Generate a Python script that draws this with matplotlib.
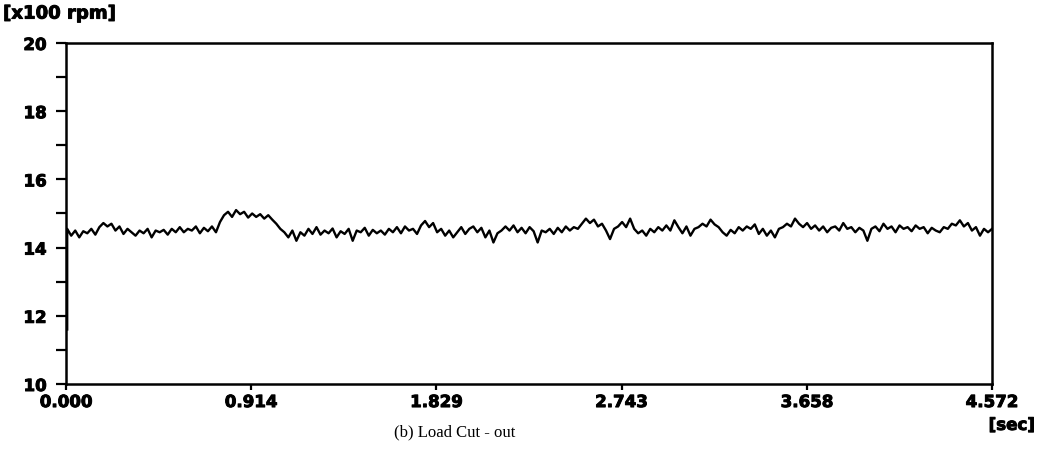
import numpy as np
import matplotlib
matplotlib.use("Agg")
import matplotlib.pyplot as plt
import matplotlib.patheffects as pe
from matplotlib.ticker import FixedLocator, MultipleLocator

# Engine speed after load cut-out, in units of 100 rpm
speed = [
    11.6, 14.55, 14.35, 14.5, 14.3, 14.48, 14.42, 14.55, 14.38, 14.6,
    14.72, 14.62, 14.7, 14.5, 14.62, 14.4, 14.55, 14.45, 14.35, 14.5,
    14.42, 14.55, 14.3, 14.5, 14.45, 14.52, 14.38, 14.55, 14.45, 14.6,
    14.45, 14.55, 14.5, 14.62, 14.42, 14.58, 14.48, 14.62, 14.45, 14.75,
    14.95, 15.05, 14.9, 15.1, 14.98, 15.05, 14.88, 15.0, 14.9, 14.98,
    14.85, 14.95, 14.82, 14.7, 14.55, 14.45, 14.3, 14.5, 14.2, 14.45,
    14.35, 14.55, 14.4, 14.6, 14.38, 14.5, 14.42, 14.56, 14.3, 14.48,
    14.4, 14.55, 14.2, 14.5, 14.45, 14.58, 14.35, 14.52, 14.42, 14.5,
    14.38, 14.55, 14.45, 14.6, 14.42, 14.62, 14.5, 14.55, 14.4, 14.65,
    14.78, 14.6, 14.72, 14.45, 14.55, 14.35, 14.5, 14.3, 14.45, 14.6,
    14.4, 14.55, 14.62, 14.45, 14.58, 14.3, 14.5, 14.15, 14.42, 14.5,
    14.62, 14.5, 14.65, 14.45, 14.58, 14.42, 14.6, 14.48, 14.15, 14.5,
    14.45, 14.55, 14.4, 14.58, 14.45, 14.62, 14.5, 14.6, 14.55, 14.7,
    14.85, 14.72, 14.82, 14.62, 14.7, 14.5, 14.25, 14.55, 14.62, 14.75,
    14.6, 14.85, 14.55, 14.42, 14.5, 14.35, 14.55, 14.45, 14.6, 14.5,
    14.65, 14.5, 14.8, 14.6, 14.42, 14.62, 14.35, 14.55, 14.6, 14.7,
    14.62, 14.82, 14.68, 14.6, 14.45, 14.35, 14.52, 14.42, 14.6, 14.5,
    14.62, 14.55, 14.68, 14.4, 14.55, 14.35, 14.5, 14.3, 14.55, 14.6,
    14.7, 14.62, 14.85, 14.7, 14.6, 14.72, 14.55, 14.65, 14.5, 14.62,
    14.45, 14.58, 14.62, 14.5, 14.72, 14.55, 14.6, 14.45, 14.58, 14.5,
    14.2, 14.55, 14.62, 14.48, 14.7, 14.55, 14.62, 14.45, 14.65, 14.55,
    14.6, 14.48, 14.65, 14.55, 14.6, 14.42, 14.58, 14.5, 14.45, 14.6,
    14.55, 14.7, 14.65, 14.8, 14.62, 14.72, 14.5, 14.6, 14.35, 14.55, 14.45, 14.55,
]
t_start = 0.006
t_end = 4.572
x_ticks = [0.000, 0.914, 1.829, 2.743, 3.658, 4.572]
x_tick_labels = ["0.000", "0.914", "1.829", "2.743", "3.658", "4.572"]
y_ticks = [10, 12, 14, 16, 18, 20]
y_tick_labels = ["10", "12", "14", "16", "18", "20"]

# the first reading is taken at the instant of cut-out, the rest are evenly spaced
time = np.concatenate([[t_start], np.linspace(t_start, t_end, len(speed) - 1)])

font = "DejaVu Sans"
heavy = [pe.withStroke(linewidth=0.7, foreground="black")]

fig = plt.figure(figsize=(10.39, 4.53), dpi=100)
ax = fig.add_axes([0.0635, 0.1523, 0.8913, 0.7528])

ax.plot(time, speed, color="black", linewidth=1.7)

ax.set_xlim(0, t_end)
ax.set_ylim(10, 20)
ax.xaxis.set_major_locator(FixedLocator(x_ticks))
ax.set_xticklabels(x_tick_labels)
ax.yaxis.set_major_locator(FixedLocator(y_ticks))
ax.set_yticklabels(y_tick_labels)
ax.yaxis.set_minor_locator(MultipleLocator(1))

for side in ax.spines.values():
    side.set_linewidth(1.8)

ax.tick_params(axis="y", which="both", direction="out", length=7, width=1.6, pad=7)
ax.tick_params(axis="x", which="major", direction="out", length=4.5, width=1.6, pad=2)
for lab in ax.get_xticklabels() + ax.get_yticklabels():
    lab.set_fontfamily(font)
    lab.set_fontweight("bold")
    lab.set_fontsize(12)
    lab.set_path_effects(heavy)

fig.text(0.003, 0.970, "[x100 rpm]", fontfamily=font, fontweight="bold",
         fontsize=13, ha="left", va="center", path_effects=heavy)
fig.text(0.996, 0.062, "[sec]", fontfamily=font, fontweight="bold",
         fontsize=12, ha="right", va="center", path_effects=heavy)
fig.text(0.438, 0.045, "(b) Load Cut - out", fontfamily="Liberation Serif",
         fontsize=12, ha="center", va="center")

fig.savefig("out.png", dpi=100)
